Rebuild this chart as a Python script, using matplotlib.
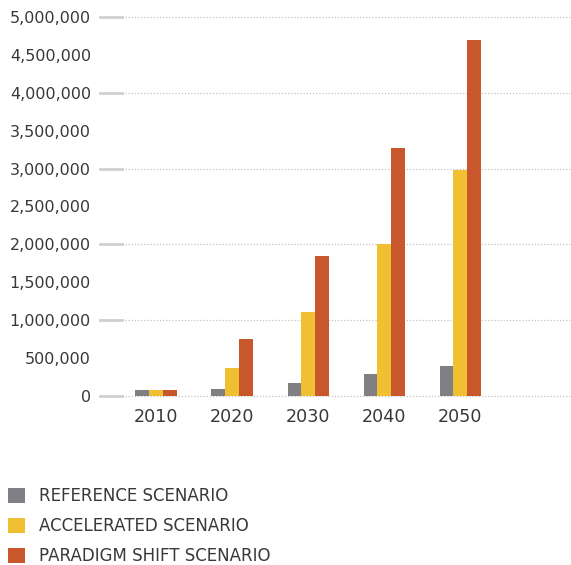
import numpy as np
import matplotlib
matplotlib.use('Agg')
from matplotlib import pyplot as plt
from matplotlib.ticker import FuncFormatter

years = ['2010', '2020', '2030', '2040', '2050']
reference = [80000, 92000, 171000, 290000, 396000]
accelerated = [80000, 370000, 1108000, 2005000, 2987000]
paradigm = [80000, 752000, 1848000, 3278000, 4695000]
series_names = ['REFERENCE SCENARIO', 'ACCELERATED SCENARIO', 'PARADIGM SHIFT SCENARIO']
colors = ['#808084', '#F0C032', '#C9572C']

plt.rcParams['font.family'] = ['DejaVu Sans']
text_color = '#383838'

fig = plt.figure(figsize=(5.71, 5.65), dpi=100)
ax = fig.add_axes([100 / 571, 1 - 396 / 565, 471 / 571, 379 / 565])

x = np.arange(len(years))
w = 0.184
bars = []
for i, (vals, c) in enumerate(zip([reference, accelerated, paradigm], colors)):
    b = ax.bar(x + (i - 1) * w, vals, width=w, color=c, zorder=3, linewidth=0)
    bars.append(b)

ax.set_xlim(-0.743, 5.454)
ax.set_ylim(0, 5000000)

# dotted gridlines at every million, with short solid stub at the left
grid_vals = np.arange(0, 5000001, 1000000)
for g in grid_vals:
    ax.axhline(g, color='#c4c4c4', linestyle=(0, (1, 1.5)), linewidth=0.9, zorder=1, clip_on=False)
    ax.plot([0, 22 / 471], [g, g], color='#d0d0d0', linewidth=2,
            transform=ax.get_yaxis_transform(), clip_on=False, zorder=2)

ax.set_yticks(np.arange(0, 5000001, 500000))
ax.yaxis.set_major_formatter(FuncFormatter(lambda v, p: f'{int(v):,}'))
ax.set_xticks(x)
ax.set_xticklabels(years)
ax.tick_params(axis='y', length=0, pad=6.5, labelsize=11.5, labelcolor=text_color)
ax.tick_params(axis='x', length=0, pad=9, labelsize=12.6, labelcolor=text_color)

for s in ax.spines.values():
    s.set_visible(False)

leg = fig.legend([b[0] for b in bars], series_names, loc='upper left',
                 bbox_to_anchor=(8 / 571, 1 - 487 / 565), frameon=False,
                 borderpad=0, borderaxespad=0,
                 handlelength=1.0, handleheight=1.0, handletextpad=0.85,
                 labelspacing=0.72, fontsize=12, labelcolor=text_color)

fig.savefig('out.png', dpi=100)
